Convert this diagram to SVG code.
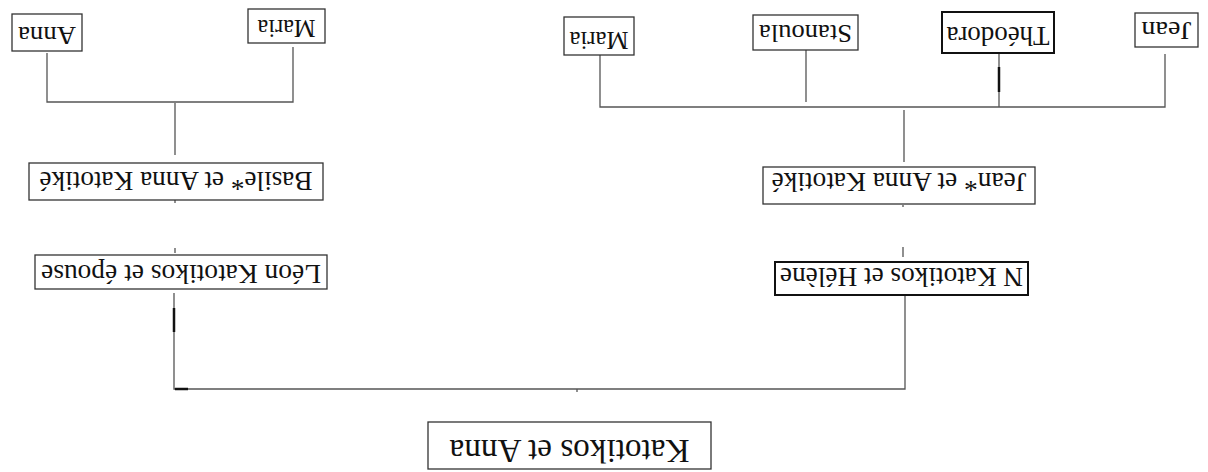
<svg xmlns="http://www.w3.org/2000/svg" width="1208" height="472" viewBox="0 0 1208 472">
<style>
.box{fill:#fff;stroke:#333;stroke-width:1.3}
.bold{stroke:#111;stroke-width:2}
.t{font-family:"Liberation Serif","Times New Roman",serif;fill:#111;text-anchor:middle}
.s26{font-size:26px}
.s27{font-size:27px}
.s33{font-size:33px}
.ln{stroke:#555;stroke-width:1.3;fill:none}
.thk{stroke:#111;stroke-width:2.5;fill:none}
</style>
<rect width="1208" height="472" fill="#fff"/>
<g id="connectors">
<path class="ln" d="M47 53V102H293V47M175 103V155M175 200V203M175 248V253M174 293V389H905V295M577 389V392"/>
<path class="thk" d="M174 308V332M175 389H188"/>
<path class="ln" d="M600 55V107H1165V54M806 50V102M999 53V107M904 110V162M903 205V207M903 247V257"/>
<path class="thk" d="M999 67V92"/>
</g>
<g id="n-anna-l"><rect class="box" x="12" y="14" width="70" height="37"/><text class="t s26" x="47" y="38" textLength="58" lengthAdjust="spacingAndGlyphs" transform="rotate(180 47 32.5)">Anna</text></g>
<g id="n-maria-l"><rect class="box" x="248" y="9" width="77" height="34"/><text class="t s26" x="286.5" y="32" textLength="58" lengthAdjust="spacingAndGlyphs" transform="rotate(180 286.5 26)">Maria</text></g>
<g id="n-basile"><rect class="box" x="29" y="163" width="294" height="37"/><text class="t s27" x="176" y="191" textLength="273" lengthAdjust="spacingAndGlyphs" transform="rotate(180 176 181.5)">Basile* et Anna Katotiké</text></g>
<g id="n-leon"><rect class="box" x="35" y="255" width="292" height="34"/><text class="t s27" x="181" y="279" textLength="280" lengthAdjust="spacingAndGlyphs" transform="rotate(180 181 272)">Léon Katotikos et épouse</text></g>
<g id="n-maria-r"><rect class="box" x="564" y="17" width="70" height="38"/><text class="t s26" x="599" y="40" textLength="59" lengthAdjust="spacingAndGlyphs" transform="rotate(180 599 36)">Maria</text></g>
<g id="n-stanoula"><rect class="box" x="753" y="15" width="105" height="35"/><text class="t s26" x="805.5" y="40" textLength="93" lengthAdjust="spacingAndGlyphs" transform="rotate(180 805.5 32.5)">Stanoula</text></g>
<g id="n-theodora"><rect class="box bold" x="942" y="12" width="112" height="41"/><text class="t s27" x="998" y="38" textLength="103" lengthAdjust="spacingAndGlyphs" transform="rotate(180 998 32.5)">Théodora</text></g>
<g id="n-jean"><rect class="box" x="1135" y="13" width="63" height="34"/><text class="t s26" x="1166.5" y="38" textLength="50" lengthAdjust="spacingAndGlyphs" transform="rotate(180 1166.5 30)">Jean</text></g>
<g id="n-jean-anna"><rect class="box" x="763" y="167" width="272" height="37"/><text class="t s27" x="899" y="198" textLength="255" lengthAdjust="spacingAndGlyphs" transform="rotate(180 899 185.5)">Jean* et Anna Katotiké</text></g>
<g id="n-n-helene"><rect class="box bold" x="775" y="262" width="253" height="33"/><text class="t s27" x="901.5" y="289" textLength="243" lengthAdjust="spacingAndGlyphs" transform="rotate(180 901.5 278.5)">N Katotikos et Hélène</text></g>
<g id="n-root"><rect class="box" x="428" y="422" width="283" height="47"/><text class="t s33" x="569.5" y="451" textLength="240" lengthAdjust="spacingAndGlyphs" transform="rotate(180 569.5 445.5)">Katotikos et Anna</text></g>
</svg>
